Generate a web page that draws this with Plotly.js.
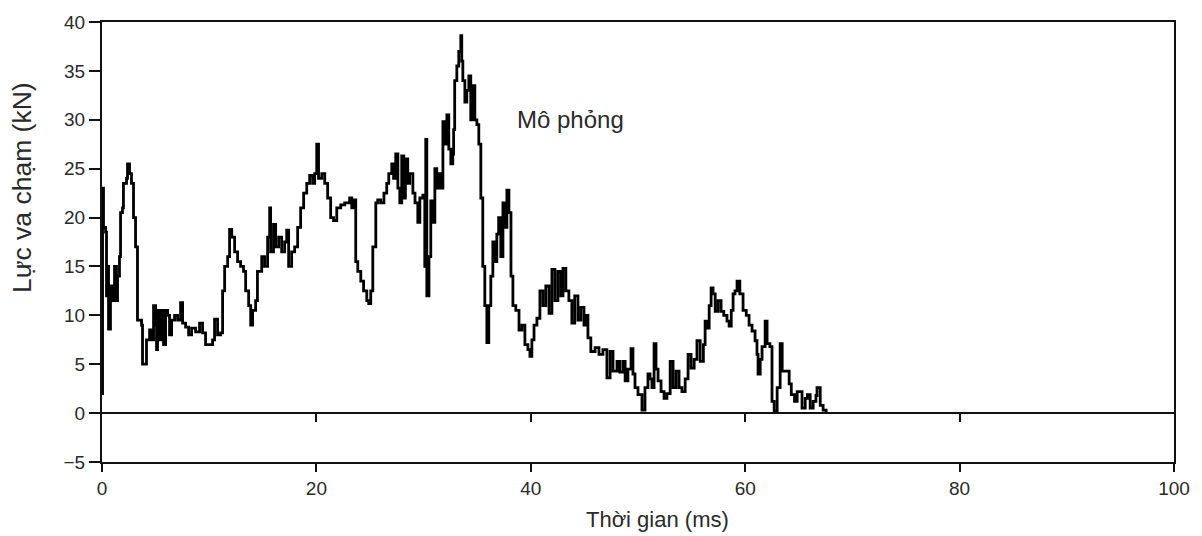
<!DOCTYPE html>
<html>
<head>
<meta charset="utf-8">
<script src="https://cdn.plot.ly/plotly-3.0.1.min.js"></script>
<style>html,body{margin:0;padding:0;background:#fff;}#chart{width:1202px;height:536px;}</style>
</head>
<body>
<div id="chart"></div>
<script>
// Time (ms)
const timeMs = [0.0,0.05,0.14,0.33,0.42,0.51,0.61,0.79,0.98,1.17,1.35,1.45,1.63,1.73,1.91,2.0,2.29,2.38,2.57,2.75,2.94,3.13,3.31,3.5,3.69,3.78,4.06,4.15,4.44,4.62,4.81,5.0,5.09,5.18,5.37,5.56,5.74,5.93,6.12,6.3,6.49,6.77,7.05,7.33,7.52,7.8,8.08,8.36,8.73,9.1,9.38,9.66,10.13,10.32,10.5,10.78,11.06,11.25,11.44,11.72,11.9,12.1,12.37,12.65,12.93,13.2,13.4,13.68,13.87,14.05,14.33,14.5,14.9,15.17,15.45,15.64,15.73,16.0,16.2,16.48,16.76,17.04,17.23,17.41,17.69,17.97,18.25,18.53,18.81,19.1,19.37,19.65,19.84,20.03,20.2,20.5,20.78,21.05,21.33,21.6,21.9,22.27,22.64,23.1,23.3,23.48,23.67,23.86,24.14,24.4,24.7,24.88,25.07,25.26,25.54,25.72,26.0,26.3,26.56,26.75,27.03,27.2,27.4,27.6,27.78,27.96,28.15,28.3,28.52,28.7,29.0,29.2,29.46,29.65,29.93,30.11,30.2,30.3,30.5,30.67,30.86,31.05,31.23,31.42,31.6,31.8,32.0,32.17,32.35,32.54,32.72,32.8,32.9,33.1,33.28,33.47,33.56,33.66,33.85,34.03,34.22,34.4,34.6,34.78,34.97,35.15,35.34,35.52,35.71,35.9,36.08,36.27,36.46,36.65,36.83,37.0,37.2,37.4,37.58,37.77,37.96,38.15,38.33,38.6,38.9,39.17,39.45,39.73,39.92,40.1,40.3,40.57,40.85,41.13,41.4,41.7,41.97,42.25,42.53,42.8,43.0,43.27,43.55,43.83,44.1,44.4,44.67,44.96,45.14,45.33,45.6,46.0,46.36,46.73,47.1,47.4,47.67,48.04,48.3,48.6,48.8,49.06,49.35,49.53,49.72,50.0,50.37,50.65,50.93,51.12,51.3,51.5,51.68,51.87,52.15,52.43,52.7,53.0,53.27,53.55,53.83,54.1,54.4,54.67,54.95,55.24,55.5,55.8,56.1,56.26,56.45,56.64,56.82,57.0,57.2,57.47,57.75,58.0,58.3,58.5,58.7,58.87,59.05,59.24,59.5,59.8,60.1,60.36,60.64,60.92,61.1,61.2,61.4,61.57,61.86,62.04,62.3,62.5,62.7,62.98,63.26,63.45,63.8,64.1,64.3,64.6,64.85,65.1,65.3,65.6,65.8,66.06,66.34,66.6,66.7,67.0,67.27,67.55];
// Impact force (kN)
const forceKN = [2,23,19,18.5,12,15,8.6,13,11.5,15,11.5,14,16,20.5,21,23.5,24,25.5,24.5,23.5,20,17,9.5,9.5,9,5,5,7.5,8.5,7.5,11,9,6.5,10.5,7.5,10.5,7,10.5,10,8,9.5,10,9.5,11.3,9.2,8.8,8,8.7,8.3,9.2,8.2,7,7,7.5,9.6,8,8.2,12.5,15,16,18.8,18,16.5,15.5,15,14.5,12.5,11,9,10.5,11.5,14.5,16,15,18,21,16.5,19.3,17,18,16.5,17.5,18.7,15,16.5,17,19,21,22.5,23.5,24.3,23.5,24.5,27.5,24,24.5,23.5,22,20,19.7,21,21.3,21.5,22,21,21.8,15.5,14.5,13.5,12.5,11.5,11.2,12.5,17,21.5,21.8,21.5,22.5,23.5,24.5,25.5,24,26.5,23,21.5,26.3,22,26,23.5,24.5,22.5,21.5,19.5,22,22.3,15,28,12,16,21.7,19.5,25,23,24.5,23,29.8,27.5,30.5,27,25.5,26.5,29,34,35.5,37,38.6,36,34,31.8,33,34.5,30,33.5,30,29.5,27.5,22,15,11,7.2,11,14,17.5,15.5,18.3,20,16,21.5,19,22.8,20.5,14,11,10.5,8.5,9,7,6.5,5.8,7.5,9,9.7,12.5,11,13,10.2,14.7,11.5,14.5,12,14.8,12.5,11.5,9.2,12,9.5,10.8,9,10,7.7,6.3,6.7,6,6.5,3.6,6.3,4.3,5.3,4.2,5.3,3.3,4.5,6.6,4,2.6,1.9,0.3,2.6,4,3.5,2.6,7.1,4.5,3.3,2.2,1.5,2,5.3,2.6,4.3,2.6,2.2,3.5,6,4.6,5.5,7.4,5.3,7,9.4,8.7,11,12.8,12.2,10.4,11.5,10.4,10,9.4,8.9,10.5,12.2,12.5,13.5,12.2,10.5,10,9,8.4,7.4,6,4,5.5,6.8,9.4,7.1,6.8,1.2,0.2,2.6,7.1,4.3,4.3,3,1.9,1.2,2.2,2.2,0.5,1.5,1.9,0.5,1.2,1.8,2.6,0.8,0.3,0];

const xTickVals = [0,20,40,60,80,100];
const yTickVals = [-5,0,5,10,15,20,25,30,35,40];
const seriesLabel = "Mô phỏng";
const xTitle = "Thời gian (ms)";
const yTitle = "Lực va chạm (kN)";

const fontFam = "Liberation Sans, Arial, sans-serif";
const txtColor = '#2a2a2a';

const data = [{
  x: timeMs, y: forceKN, type: 'scatter', mode: 'lines',
  line: {color: '#000', width: 2.8, shape: 'hv'},
  hoverinfo: 'skip', showlegend: false
}, {
  x: [null], y: [null], xaxis: 'x2', yaxis: 'y', type: 'scatter', mode: 'lines',
  hoverinfo: 'skip', showlegend: false
}];

const layout = {
  width: 1202, height: 536,
  margin: {l: 102, r: 28, t: 22, b: 74},
  paper_bgcolor: '#fff', plot_bgcolor: '#fff',
  font: {family: fontFam, color: txtColor, size: 19},
  xaxis: {
    range: [0, 100], tickvals: xTickVals, ticks: 'outside', ticklen: 8, tickwidth: 2,
    tickcolor: '#111', showline: true, linecolor: '#111', linewidth: 2, mirror: true,
    showgrid: false, zeroline: false, tickfont: {size: 19, color: txtColor}
  },
  xaxis2: {
    range: [0, 100], overlaying: 'x', anchor: 'free', position: 5/45, side: 'bottom',
    tickvals: [20,40,60,80], ticks: 'outside', ticklen: 8, tickwidth: 2, tickcolor: '#111',
    showline: true, linecolor: '#111', linewidth: 2, showticklabels: false,
    showgrid: false, zeroline: false
  },
  yaxis: {
    range: [-5, 40], domain: [0, 1], tickvals: yTickVals, ticks: 'outside', ticklen: 11, tickwidth: 2,
    tickcolor: '#111', showline: true, linecolor: '#111', linewidth: 2, mirror: true,
    showgrid: false, zeroline: false, tickfont: {size: 19, color: txtColor}
  },
  annotations: [{
    x: 38.5, y: 30, xref: 'x', yref: 'y', text: seriesLabel, showarrow: false,
    xanchor: 'left', yanchor: 'middle', font: {size: 24, color: txtColor}
  }, {
    x: (657 - 102) / 1072, y: (462 - 519) / 440, xref: 'paper', yref: 'paper', text: xTitle,
    showarrow: false, xanchor: 'center', yanchor: 'middle',
    font: {size: 22, color: txtColor}
  }, {
    x: (22 - 102) / 1072, y: (462 - 188) / 440, xref: 'paper', yref: 'paper', text: yTitle,
    showarrow: false, xanchor: 'center', yanchor: 'middle', textangle: -90,
    font: {size: 26.5, color: txtColor}
  }]
};

Plotly.newPlot('chart', data, layout, {displayModeBar: false, staticPlot: true});
</script>
</body>
</html>
